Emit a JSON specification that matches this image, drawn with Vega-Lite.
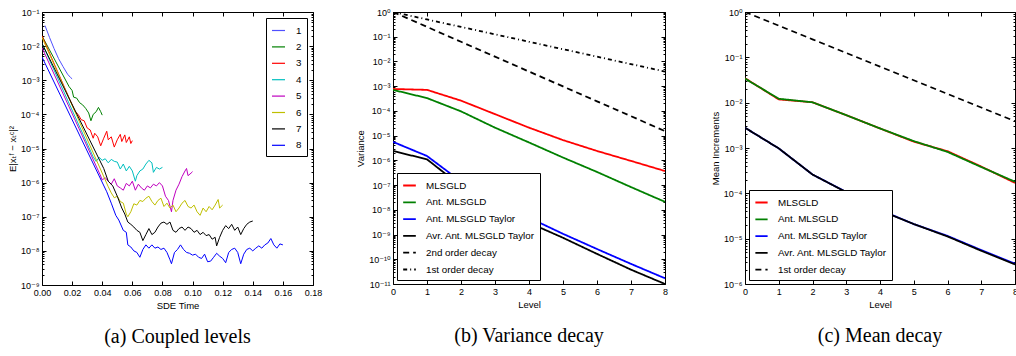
{
"$schema": "https://vega.github.io/schema/vega-lite/v6.json",
"background": "white",
"padding": {"left": 6, "top": 7, "right": 0, "bottom": 2},
"spacing": 80,
"bounds": "flush",
"resolve": {"scale": {"color": "independent", "strokeDash": "independent"}},
"config": {
 "view": {"stroke": "black", "strokeWidth": 1},
 "font": "Liberation Sans",
 "axis": {"domain": false, "grid": false, "tickColor": "black", "tickSize": -4, "labelPadding": 7, "labelFont": "Liberation Sans, DejaVu Sans", "labelFontSize": 9, "labelColor": "black", "titleFont": "Liberation Sans, DejaVu Sans", "titleFontSize": 9.5, "titleFontWeight": "normal", "titleColor": "black", "labelFlush": false, "labelOverlap": false, "titlePadding": 3},
 "legend": {"title": null, "strokeColor": "black", "fillColor": "white", "cornerRadius": 0, "symbolType": "stroke", "labelFont": "Liberation Sans", "labelFontSize": 9.8, "labelColor": "black"},
 "title": {"orient": "bottom", "font": "Liberation Serif", "fontSize": 20, "fontWeight": "normal", "color": "black", "frame": "group", "anchor": "middle", "offset": 17}
},
"datasets": {
 "a": [
  {"s":1,"t":0.002,"v":0.040},{"s":1,"t":0.005,"v":0.018},{"s":1,"t":0.008,"v":0.0085},{"s":1,"t":0.011,"v":0.0043},{"s":1,"t":0.014,"v":0.0025},{"s":1,"t":0.017,"v":0.0015},{"s":1,"t":0.019,"v":0.0012},{"s":1,"t":0.020,"v":0.0011},
  {"s":2,"t":0.0,"v":0.02},{"s":2,"t":0.018,"v":0.00065},{"s":2,"t":0.020,"v":0.0005},{"s":2,"t":0.021,"v":0.00032},{"s":2,"t":0.023,"v":0.0003},{"s":2,"t":0.025,"v":0.00022},{"s":2,"t":0.027,"v":0.00019},{"s":2,"t":0.029,"v":0.00015},{"s":2,"t":0.031,"v":0.00011},{"s":2,"t":0.0325,"v":0.000065},{"s":2,"t":0.034,"v":0.0001},{"s":2,"t":0.036,"v":0.00012},{"s":2,"t":0.0375,"v":0.00016},{"s":2,"t":0.039,"v":0.00012},{"s":2,"t":0.040,"v":0.000095},
  {"s":3,"t":0.0,"v":0.02},{"s":3,"t":0.022,"v":0.00012},{"s":3,"t":0.024,"v":0.0001},{"s":3,"t":0.026,"v":0.00007},{"s":3,"t":0.028,"v":0.000065},{"s":3,"t":0.030,"v":0.00004},{"s":3,"t":0.032,"v":0.000035},{"s":3,"t":0.034,"v":0.00002},{"s":3,"t":0.035,"v":0.000028},{"s":3,"t":0.037,"v":0.000022},{"s":3,"t":0.039,"v":0.000012},{"s":3,"t":0.041,"v":0.00002},{"s":3,"t":0.043,"v":0.000032},{"s":3,"t":0.044,"v":0.000018},{"s":3,"t":0.046,"v":0.000022},{"s":3,"t":0.048,"v":0.000011},{"s":3,"t":0.050,"v":0.000018},{"s":3,"t":0.052,"v":0.000026},{"s":3,"t":0.053,"v":0.000016},{"s":3,"t":0.055,"v":0.000025},{"s":3,"t":0.056,"v":0.000015},{"s":3,"t":0.058,"v":0.000022},{"s":3,"t":0.059,"v":0.000014},{"s":3,"t":0.060,"v":0.000017},
  {"s":4,"t":0.0,"v":0.012},{"s":4,"t":0.034,"v":0.0000057},{"s":4,"t":0.036,"v":0.0000042},{"s":4,"t":0.038,"v":0.0000055},{"s":4,"t":0.040,"v":0.0000045},{"s":4,"t":0.042,"v":0.000005},{"s":4,"t":0.044,"v":0.0000038},{"s":4,"t":0.046,"v":0.0000048},{"s":4,"t":0.048,"v":0.0000042},{"s":4,"t":0.050,"v":0.000004},{"s":4,"t":0.052,"v":0.0000025},{"s":4,"t":0.054,"v":0.0000035},{"s":4,"t":0.056,"v":0.0000022},{"s":4,"t":0.058,"v":0.000003},{"s":4,"t":0.060,"v":0.0000022},{"s":4,"t":0.062,"v":0.0000011},{"s":4,"t":0.063,"v":0.0000016},{"s":4,"t":0.065,"v":0.0000022},{"s":4,"t":0.067,"v":0.0000025},{"s":4,"t":0.069,"v":0.0000035},{"s":4,"t":0.071,"v":0.0000045},{"s":4,"t":0.073,"v":0.0000038},{"s":4,"t":0.074,"v":0.000002},{"s":4,"t":0.076,"v":0.0000028},{"s":4,"t":0.078,"v":0.0000025},{"s":4,"t":0.080,"v":0.0000028},
  {"s":5,"t":0.0,"v":0.009},{"s":5,"t":0.0386,"v":0.0000017},{"s":5,"t":0.040,"v":0.0000012},{"s":5,"t":0.042,"v":0.0000014},{"s":5,"t":0.044,"v":0.0000011},{"s":5,"t":0.046,"v":0.0000009},{"s":5,"t":0.048,"v":0.0000013},{"s":5,"t":0.050,"v":0.0000008},{"s":5,"t":0.052,"v":0.0000007},{"s":5,"t":0.054,"v":0.0000006},{"s":5,"t":0.056,"v":0.00000095},{"s":5,"t":0.058,"v":0.0000008},{"s":5,"t":0.060,"v":0.0000011},{"s":5,"t":0.062,"v":0.0000006},{"s":5,"t":0.064,"v":0.0000009},{"s":5,"t":0.066,"v":0.0000007},{"s":5,"t":0.068,"v":0.0000006},{"s":5,"t":0.070,"v":0.0000008},{"s":5,"t":0.072,"v":0.0000007},{"s":5,"t":0.074,"v":0.0000009},{"s":5,"t":0.076,"v":0.0000008},{"s":5,"t":0.078,"v":0.000001},{"s":5,"t":0.080,"v":0.0000008},{"s":5,"t":0.082,"v":0.0000004},{"s":5,"t":0.084,"v":0.0000003},{"s":5,"t":0.086,"v":0.00000014},{"s":5,"t":0.087,"v":0.0000003},{"s":5,"t":0.089,"v":0.0000006},{"s":5,"t":0.091,"v":0.0000009},{"s":5,"t":0.093,"v":0.0000015},{"s":5,"t":0.095,"v":0.0000022},{"s":5,"t":0.096,"v":0.0000026},{"s":5,"t":0.097,"v":0.0000016},{"s":5,"t":0.099,"v":0.0000019},{"s":5,"t":0.100,"v":0.0000021},
  {"s":6,"t":0.0,"v":0.018},{"s":6,"t":0.044,"v":0.00000076},{"s":6,"t":0.046,"v":0.0000005},{"s":6,"t":0.048,"v":0.00000036},{"s":6,"t":0.050,"v":0.0000004},{"s":6,"t":0.052,"v":0.00000028},{"s":6,"t":0.054,"v":0.00000025},{"s":6,"t":0.056,"v":0.00000012},{"s":6,"t":0.057,"v":0.0000001},{"s":6,"t":0.059,"v":0.00000014},{"s":6,"t":0.061,"v":0.00000024},{"s":6,"t":0.063,"v":0.00000022},{"s":6,"t":0.065,"v":0.0000003},{"s":6,"t":0.067,"v":0.00000028},{"s":6,"t":0.069,"v":0.00000035},{"s":6,"t":0.071,"v":0.0000004},{"s":6,"t":0.073,"v":0.00000028},{"s":6,"t":0.075,"v":0.00000022},{"s":6,"t":0.077,"v":0.0000003},{"s":6,"t":0.079,"v":0.00000035},{"s":6,"t":0.081,"v":0.0000002},{"s":6,"t":0.083,"v":0.00000025},{"s":6,"t":0.085,"v":0.00000018},{"s":6,"t":0.087,"v":0.00000022},{"s":6,"t":0.089,"v":0.00000014},{"s":6,"t":0.091,"v":0.00000018},{"s":6,"t":0.093,"v":0.00000025},{"s":6,"t":0.095,"v":0.0000003},{"s":6,"t":0.097,"v":0.0000002},{"s":6,"t":0.099,"v":0.00000018},{"s":6,"t":0.101,"v":0.00000022},{"s":6,"t":0.103,"v":0.00000014},{"s":6,"t":0.105,"v":0.00000011},{"s":6,"t":0.107,"v":0.00000018},{"s":6,"t":0.109,"v":0.00000014},{"s":6,"t":0.111,"v":0.0000002},{"s":6,"t":0.113,"v":0.00000016},{"s":6,"t":0.115,"v":0.00000022},{"s":6,"t":0.117,"v":0.00000032},{"s":6,"t":0.118,"v":0.00000018},{"s":6,"t":0.120,"v":0.00000022},
  {"s":7,"t":0.0,"v":0.012},{"s":7,"t":0.041,"v":0.0000026},{"s":7,"t":0.044,"v":0.0000011},{"s":7,"t":0.047,"v":0.0000008},{"s":7,"t":0.050,"v":0.0000004},{"s":7,"t":0.053,"v":0.00000018},{"s":7,"t":0.055,"v":0.00000012},{"s":7,"t":0.057,"v":0.00000007},{"s":7,"t":0.059,"v":0.00000006},{"s":7,"t":0.061,"v":0.00000005},{"s":7,"t":0.063,"v":0.00000004},{"s":7,"t":0.065,"v":0.000000035},{"s":7,"t":0.067,"v":0.00000002},{"s":7,"t":0.069,"v":0.00000003},{"s":7,"t":0.071,"v":0.000000045},{"s":7,"t":0.073,"v":0.00000003},{"s":7,"t":0.075,"v":0.000000035},{"s":7,"t":0.077,"v":0.00000005},{"s":7,"t":0.079,"v":0.000000065},{"s":7,"t":0.081,"v":0.00000007},{"s":7,"t":0.083,"v":0.00000006},{"s":7,"t":0.085,"v":0.00000007},{"s":7,"t":0.087,"v":0.00000004},{"s":7,"t":0.089,"v":0.000000035},{"s":7,"t":0.091,"v":0.000000045},{"s":7,"t":0.093,"v":0.00000005},{"s":7,"t":0.095,"v":0.00000004},{"s":7,"t":0.097,"v":0.00000005},{"s":7,"t":0.099,"v":0.000000045},{"s":7,"t":0.101,"v":0.000000035},{"s":7,"t":0.103,"v":0.00000004},{"s":7,"t":0.105,"v":0.00000003},{"s":7,"t":0.107,"v":0.000000035},{"s":7,"t":0.109,"v":0.000000028},{"s":7,"t":0.111,"v":0.00000003},{"s":7,"t":0.113,"v":0.000000022},{"s":7,"t":0.115,"v":0.000000025},{"s":7,"t":0.116,"v":0.000000014},{"s":7,"t":0.118,"v":0.000000025},{"s":7,"t":0.120,"v":0.00000004},{"s":7,"t":0.122,"v":0.000000055},{"s":7,"t":0.124,"v":0.000000045},{"s":7,"t":0.126,"v":0.00000006},{"s":7,"t":0.128,"v":0.00000004},{"s":7,"t":0.130,"v":0.00000005},{"s":7,"t":0.132,"v":0.00000003},{"s":7,"t":0.134,"v":0.000000045},{"s":7,"t":0.136,"v":0.00000006},{"s":7,"t":0.138,"v":0.00000007},{"s":7,"t":0.140,"v":0.000000075},
  {"s":8,"t":0.0,"v":0.0048},{"s":8,"t":0.043,"v":0.00000054},{"s":8,"t":0.046,"v":0.00000025},{"s":8,"t":0.049,"v":0.00000011},{"s":8,"t":0.051,"v":0.00000008},{"s":8,"t":0.054,"v":0.00000004},{"s":8,"t":0.056,"v":0.000000035},{"s":8,"t":0.057,"v":0.000000015},{"s":8,"t":0.059,"v":0.000000013},{"s":8,"t":0.061,"v":0.00000001},{"s":8,"t":0.063,"v":0.000000009},{"s":8,"t":0.065,"v":0.0000000065},{"s":8,"t":0.067,"v":0.000000011},{"s":8,"t":0.069,"v":0.000000015},{"s":8,"t":0.071,"v":0.000000012},{"s":8,"t":0.073,"v":0.000000015},{"s":8,"t":0.075,"v":0.000000012},{"s":8,"t":0.077,"v":0.000000013},{"s":8,"t":0.079,"v":0.000000011},{"s":8,"t":0.081,"v":0.000000012},{"s":8,"t":0.083,"v":0.000000009},{"s":8,"t":0.085,"v":0.0000000055},{"s":8,"t":0.086,"v":0.0000000042},{"s":8,"t":0.088,"v":0.000000009},{"s":8,"t":0.090,"v":0.000000011},{"s":8,"t":0.092,"v":0.000000015},{"s":8,"t":0.094,"v":0.000000011},{"s":8,"t":0.096,"v":0.000000009},{"s":8,"t":0.098,"v":0.0000000085},{"s":8,"t":0.100,"v":0.0000000075},{"s":8,"t":0.102,"v":0.000000008},{"s":8,"t":0.104,"v":0.0000000065},{"s":8,"t":0.106,"v":0.000000006},{"s":8,"t":0.108,"v":0.000000008},{"s":8,"t":0.110,"v":0.0000000048},{"s":8,"t":0.112,"v":0.000000005},{"s":8,"t":0.114,"v":0.0000000065},{"s":8,"t":0.116,"v":0.0000000085},{"s":8,"t":0.118,"v":0.000000007},{"s":8,"t":0.120,"v":0.000000006},{"s":8,"t":0.122,"v":0.0000000045},{"s":8,"t":0.124,"v":0.000000009},{"s":8,"t":0.126,"v":0.000000011},{"s":8,"t":0.128,"v":0.000000012},{"s":8,"t":0.130,"v":0.000000009},{"s":8,"t":0.132,"v":0.0000000042},{"s":8,"t":0.134,"v":0.000000008},{"s":8,"t":0.136,"v":0.000000011},{"s":8,"t":0.138,"v":0.000000012},{"s":8,"t":0.140,"v":0.00000001},{"s":8,"t":0.142,"v":0.000000012},{"s":8,"t":0.144,"v":0.000000014},{"s":8,"t":0.146,"v":0.000000012},{"s":8,"t":0.148,"v":0.000000015},{"s":8,"t":0.150,"v":0.000000017},{"s":8,"t":0.152,"v":0.000000023},{"s":8,"t":0.154,"v":0.000000015},{"s":8,"t":0.156,"v":0.000000012},{"s":8,"t":0.158,"v":0.000000016},{"s":8,"t":0.160,"v":0.000000015}
 ],
 "b": [
  {"s":"MLSGLD","l":0,"v":7.7e-4},{"s":"MLSGLD","l":1,"v":7.1e-4},{"s":"MLSGLD","l":2,"v":2.6e-4},{"s":"MLSGLD","l":3,"v":7.4e-5},{"s":"MLSGLD","l":4,"v":2.1e-5},{"s":"MLSGLD","l":5,"v":6.6e-6},{"s":"MLSGLD","l":6,"v":2.4e-6},{"s":"MLSGLD","l":7,"v":9.5e-7},{"s":"MLSGLD","l":8,"v":3.7e-7},
  {"s":"Ant. MLSGLD","l":0,"v":7.1e-4},{"s":"Ant. MLSGLD","l":1,"v":3.3e-4},{"s":"Ant. MLSGLD","l":2,"v":9.6e-5},{"s":"Ant. MLSGLD","l":3,"v":2.1e-5},{"s":"Ant. MLSGLD","l":4,"v":5.3e-6},{"s":"Ant. MLSGLD","l":5,"v":1.3e-6},{"s":"Ant. MLSGLD","l":6,"v":3.4e-7},{"s":"Ant. MLSGLD","l":7,"v":8.3e-8},{"s":"Ant. MLSGLD","l":8,"v":2.1e-8},
  {"s":"Ant. MLSGLD Taylor","l":0,"v":5.6e-6},{"s":"Ant. MLSGLD Taylor","l":1,"v":1.5e-6},{"s":"Ant. MLSGLD Taylor","l":2,"v":1.4e-7},{"s":"Ant. MLSGLD Taylor","l":3,"v":2.2e-8},{"s":"Ant. MLSGLD Taylor","l":4,"v":4.8e-9},{"s":"Ant. MLSGLD Taylor","l":5,"v":1.07e-9},{"s":"Ant. MLSGLD Taylor","l":6,"v":2.6e-10},{"s":"Ant. MLSGLD Taylor","l":7,"v":6.5e-11},{"s":"Ant. MLSGLD Taylor","l":8,"v":1.7e-11},
  {"s":"Avr. Ant. MLSGLD Taylor","l":0,"v":2.4e-6},{"s":"Avr. Ant. MLSGLD Taylor","l":1,"v":1.1e-6},{"s":"Avr. Ant. MLSGLD Taylor","l":2,"v":9.2e-8},{"s":"Avr. Ant. MLSGLD Taylor","l":3,"v":1.6e-8},{"s":"Avr. Ant. MLSGLD Taylor","l":4,"v":3.0e-9},{"s":"Avr. Ant. MLSGLD Taylor","l":5,"v":7.4e-10},{"s":"Avr. Ant. MLSGLD Taylor","l":6,"v":1.65e-10},{"s":"Avr. Ant. MLSGLD Taylor","l":7,"v":3.8e-11},{"s":"Avr. Ant. MLSGLD Taylor","l":8,"v":1.0e-11},
  {"s":"2nd order decay","l":0,"v":1},{"s":"2nd order decay","l":1,"v":0.25},{"s":"2nd order decay","l":2,"v":0.0625},{"s":"2nd order decay","l":3,"v":0.015625},{"s":"2nd order decay","l":4,"v":0.00390625},{"s":"2nd order decay","l":5,"v":0.0009765625},{"s":"2nd order decay","l":6,"v":0.000244140625},{"s":"2nd order decay","l":7,"v":0.00006103515625},{"s":"2nd order decay","l":8,"v":0.0000152587890625},
  {"s":"1st order decay","l":0,"v":1},{"s":"1st order decay","l":1,"v":0.5},{"s":"1st order decay","l":2,"v":0.25},{"s":"1st order decay","l":3,"v":0.125},{"s":"1st order decay","l":4,"v":0.0625},{"s":"1st order decay","l":5,"v":0.03125},{"s":"1st order decay","l":6,"v":0.015625},{"s":"1st order decay","l":7,"v":0.0078125},{"s":"1st order decay","l":8,"v":0.00390625}
 ],
 "c": [
  {"s":"MLSGLD","l":0,"v":0.0346},{"s":"MLSGLD","l":1,"v":0.0118},{"s":"MLSGLD","l":2,"v":0.0102},{"s":"MLSGLD","l":3,"v":0.0053},{"s":"MLSGLD","l":4,"v":0.0027},{"s":"MLSGLD","l":5,"v":0.00138},{"s":"MLSGLD","l":6,"v":0.00085},{"s":"MLSGLD","l":7,"v":0.00039},{"s":"MLSGLD","l":8,"v":0.00017},
  {"s":"Ant. MLSGLD","l":0,"v":0.0340},{"s":"Ant. MLSGLD","l":1,"v":0.0122},{"s":"Ant. MLSGLD","l":2,"v":0.0102},{"s":"Ant. MLSGLD","l":3,"v":0.0053},{"s":"Ant. MLSGLD","l":4,"v":0.0027},{"s":"Ant. MLSGLD","l":5,"v":0.00142},{"s":"Ant. MLSGLD","l":6,"v":0.00082},{"s":"Ant. MLSGLD","l":7,"v":0.00038},{"s":"Ant. MLSGLD","l":8,"v":0.00018},
  {"s":"Ant. MLSGLD Taylor","l":0,"v":0.0028},{"s":"Ant. MLSGLD Taylor","l":1,"v":0.00098},{"s":"Ant. MLSGLD Taylor","l":2,"v":0.00026},{"s":"Ant. MLSGLD Taylor","l":3,"v":0.000107},{"s":"Ant. MLSGLD Taylor","l":4,"v":0.000043},{"s":"Ant. MLSGLD Taylor","l":5,"v":0.000021},{"s":"Ant. MLSGLD Taylor","l":6,"v":0.0000115},{"s":"Ant. MLSGLD Taylor","l":7,"v":0.0000056},{"s":"Ant. MLSGLD Taylor","l":8,"v":0.0000028},
  {"s":"Avr. Ant. MLSGLD Taylor","l":0,"v":0.0028},{"s":"Avr. Ant. MLSGLD Taylor","l":1,"v":0.00098},{"s":"Avr. Ant. MLSGLD Taylor","l":2,"v":0.00026},{"s":"Avr. Ant. MLSGLD Taylor","l":3,"v":0.000106},{"s":"Avr. Ant. MLSGLD Taylor","l":4,"v":0.000042},{"s":"Avr. Ant. MLSGLD Taylor","l":5,"v":0.000021},{"s":"Avr. Ant. MLSGLD Taylor","l":6,"v":0.0000112},{"s":"Avr. Ant. MLSGLD Taylor","l":7,"v":0.0000054},{"s":"Avr. Ant. MLSGLD Taylor","l":8,"v":0.0000027},
  {"s":"1st order decay","l":0,"v":1},{"s":"1st order decay","l":1,"v":0.5},{"s":"1st order decay","l":2,"v":0.25},{"s":"1st order decay","l":3,"v":0.125},{"s":"1st order decay","l":4,"v":0.0625},{"s":"1st order decay","l":5,"v":0.03125},{"s":"1st order decay","l":6,"v":0.015625},{"s":"1st order decay","l":7,"v":0.0078125},{"s":"1st order decay","l":8,"v":0.00390625}
 ]
},
"hconcat": [
 {
  "width": 271, "height": 273,
  "title": {"text": "(a) Coupled levels"},
  "data": {"name": "a"},
  "layer": [
   {
    "mark": {"type": "line", "strokeWidth": 1, "clip": true},
    "encoding": {
     "x": {"field": "t", "type": "quantitative", "scale": {"domain": [0, 0.18], "nice": false, "zero": false},
       "axis": {"title": "SDE Time", "values": [0,0.02,0.04,0.06,0.08,0.1,0.12,0.14,0.16,0.18], "format": ".2f"}},
     "y": {"field": "v", "type": "quantitative", "scale": {"type": "log", "domain": [1e-9, 0.1], "nice": false},
       "axis": {"title": "E|xₜᶠ − xₜᶜ|²",
         "values": [1e-9,2e-9,3e-9,4e-9,5e-9,6e-9,7e-9,8e-9,9e-9,1e-8,2e-8,3e-8,4e-8,5e-8,6e-8,7e-8,8e-8,9e-8,1e-7,2e-7,3e-7,4e-7,5e-7,6e-7,7e-7,8e-7,9e-7,1e-6,2e-6,3e-6,4e-6,5e-6,6e-6,7e-6,8e-6,9e-6,1e-5,2e-5,3e-5,4e-5,5e-5,6e-5,7e-5,8e-5,9e-5,1e-4,2e-4,3e-4,4e-4,5e-4,6e-4,7e-4,8e-4,9e-4,1e-3,2e-3,3e-3,4e-3,5e-3,6e-3,7e-3,8e-3,9e-3,1e-2,2e-2,3e-2,4e-2,5e-2,6e-2,7e-2,8e-2,9e-2,1e-1],
         "tickSize": {"condition": {"test": "abs(log(datum.value)/LN10 - round(log(datum.value)/LN10)) > 0.001", "value": -2}, "value": -4},
         "labelExpr": "abs(log(datum.value)/LN10 - round(log(datum.value)/LN10)) > 0.001 ? '' : '10' + replace(replace(replace(replace(replace(replace(replace(replace(replace(replace(replace(toString(round(log(datum.value)/LN10)), '-', '⁻'), regexp('1','g'), '¹'), regexp('0','g'), '⁰'), '2', '²'), '3', '³'), '4', '⁴'), '5', '⁵'), '6', '⁶'), '7', '⁷'), '8', '⁸'), '9', '⁹')"}},
     "color": {"field": "s", "type": "nominal",
       "scale": {"domain": [1,2,3,4,5,6,7,8], "range": ["#5050ff","#008000","#ff0000","#00bfbf","#bf00bf","#bfbf00","#000000","#0000ff"]},
       "legend": {"orient": "top-right", "offset": 6, "padding": 5, "symbolSize": 169, "symbolStrokeWidth": 1.2, "rowPadding": 3.4, "labelOffset": 10}}
    }
   },
   {
    "mark": {"type": "point", "opacity": 0},
    "encoding": {
     "x": {"field": "t", "type": "quantitative", "scale": {"domain": [0, 0.18], "nice": false, "zero": false},
       "axis": {"orient": "top", "title": null, "labels": false, "values": [0,0.02,0.04,0.06,0.08,0.1,0.12,0.14,0.16,0.18]}},
     "y": {"field": "v", "type": "quantitative", "scale": {"type": "log", "domain": [1e-9, 0.1], "nice": false},
       "axis": {"orient": "right", "title": null, "labels": false,
         "values": [1e-9,2e-9,3e-9,4e-9,5e-9,6e-9,7e-9,8e-9,9e-9,1e-8,2e-8,3e-8,4e-8,5e-8,6e-8,7e-8,8e-8,9e-8,1e-7,2e-7,3e-7,4e-7,5e-7,6e-7,7e-7,8e-7,9e-7,1e-6,2e-6,3e-6,4e-6,5e-6,6e-6,7e-6,8e-6,9e-6,1e-5,2e-5,3e-5,4e-5,5e-5,6e-5,7e-5,8e-5,9e-5,1e-4,2e-4,3e-4,4e-4,5e-4,6e-4,7e-4,8e-4,9e-4,1e-3,2e-3,3e-3,4e-3,5e-3,6e-3,7e-3,8e-3,9e-3,1e-2,2e-2,3e-2,4e-2,5e-2,6e-2,7e-2,8e-2,9e-2,1e-1],
         "tickSize": {"condition": {"test": "abs(log(datum.value)/LN10 - round(log(datum.value)/LN10)) > 0.001", "value": -2}, "value": -4}}}
    }
   }
  ],
  "resolve": {"axis": {"x": "independent", "y": "independent"}}
 },
 {
  "width": 272, "height": 272,
  "title": {"text": "(b) Variance decay"},
  "data": {"name": "b"},
  "layer": [
   {
    "mark": {"type": "line", "strokeWidth": 1.8, "clip": true},
    "encoding": {
     "x": {"field": "l", "type": "quantitative", "scale": {"domain": [0, 8], "nice": false},
       "axis": {"title": "Level", "values": [0,1,2,3,4,5,6,7,8], "format": "d"}},
     "y": {"field": "v", "type": "quantitative", "scale": {"type": "log", "domain": [1e-11, 1], "nice": false},
       "axis": {"title": "Variance",
         "values": [1e-11,2e-11,3e-11,4e-11,5e-11,6e-11,7e-11,8e-11,9e-11,1e-10,2e-10,3e-10,4e-10,5e-10,6e-10,7e-10,8e-10,9e-10,1e-9,2e-9,3e-9,4e-9,5e-9,6e-9,7e-9,8e-9,9e-9,1e-8,2e-8,3e-8,4e-8,5e-8,6e-8,7e-8,8e-8,9e-8,1e-7,2e-7,3e-7,4e-7,5e-7,6e-7,7e-7,8e-7,9e-7,1e-6,2e-6,3e-6,4e-6,5e-6,6e-6,7e-6,8e-6,9e-6,1e-5,2e-5,3e-5,4e-5,5e-5,6e-5,7e-5,8e-5,9e-5,1e-4,2e-4,3e-4,4e-4,5e-4,6e-4,7e-4,8e-4,9e-4,1e-3,2e-3,3e-3,4e-3,5e-3,6e-3,7e-3,8e-3,9e-3,1e-2,2e-2,3e-2,4e-2,5e-2,6e-2,7e-2,8e-2,9e-2,1e-1,2e-1,3e-1,4e-1,5e-1,6e-1,7e-1,8e-1,9e-1,1],
         "tickSize": {"condition": {"test": "abs(log(datum.value)/LN10 - round(log(datum.value)/LN10)) > 0.001", "value": -2}, "value": -4},
         "labelExpr": "abs(log(datum.value)/LN10 - round(log(datum.value)/LN10)) > 0.001 ? '' : '10' + replace(replace(replace(replace(replace(replace(replace(replace(replace(replace(replace(toString(round(log(datum.value)/LN10)), '-', '⁻'), regexp('1','g'), '¹'), regexp('0','g'), '⁰'), '2', '²'), '3', '³'), '4', '⁴'), '5', '⁵'), '6', '⁶'), '7', '⁷'), '8', '⁸'), '9', '⁹')"}},
     "color": {"field": "s", "type": "nominal",
       "scale": {"domain": ["MLSGLD","Ant. MLSGLD","Ant. MLSGLD Taylor","Avr. Ant. MLSGLD Taylor","2nd order decay","1st order decay"], "range": ["#ff0000","#008000","#0000ff","#000000","#000000","#000000"]},
       "legend": {"orient": "bottom-left", "offset": 4, "padding": 5, "symbolSize": 160, "symbolStrokeWidth": 1.8, "rowPadding": 3.8, "labelOffset": 9}},
     "strokeDash": {"field": "s", "type": "nominal",
       "scale": {"domain": ["MLSGLD","Ant. MLSGLD","Ant. MLSGLD Taylor","Avr. Ant. MLSGLD Taylor","2nd order decay","1st order decay"], "range": [[1,0],[1,0],[1,0],[1,0],[6,4],[4,3,1,3]]}}
    }
   },
   {
    "mark": {"type": "point", "opacity": 0},
    "encoding": {
     "x": {"field": "l", "type": "quantitative", "scale": {"domain": [0, 8], "nice": false},
       "axis": {"orient": "top", "title": null, "labels": false, "values": [0,1,2,3,4,5,6,7,8]}},
     "y": {"field": "v", "type": "quantitative", "scale": {"type": "log", "domain": [1e-11, 1], "nice": false},
       "axis": {"orient": "right", "title": null, "labels": false,
         "values": [1e-11,2e-11,3e-11,4e-11,5e-11,6e-11,7e-11,8e-11,9e-11,1e-10,2e-10,3e-10,4e-10,5e-10,6e-10,7e-10,8e-10,9e-10,1e-9,2e-9,3e-9,4e-9,5e-9,6e-9,7e-9,8e-9,9e-9,1e-8,2e-8,3e-8,4e-8,5e-8,6e-8,7e-8,8e-8,9e-8,1e-7,2e-7,3e-7,4e-7,5e-7,6e-7,7e-7,8e-7,9e-7,1e-6,2e-6,3e-6,4e-6,5e-6,6e-6,7e-6,8e-6,9e-6,1e-5,2e-5,3e-5,4e-5,5e-5,6e-5,7e-5,8e-5,9e-5,1e-4,2e-4,3e-4,4e-4,5e-4,6e-4,7e-4,8e-4,9e-4,1e-3,2e-3,3e-3,4e-3,5e-3,6e-3,7e-3,8e-3,9e-3,1e-2,2e-2,3e-2,4e-2,5e-2,6e-2,7e-2,8e-2,9e-2,1e-1,2e-1,3e-1,4e-1,5e-1,6e-1,7e-1,8e-1,9e-1,1],
         "tickSize": {"condition": {"test": "abs(log(datum.value)/LN10 - round(log(datum.value)/LN10)) > 0.001", "value": -2}, "value": -4}}}
    }
   }
  ],
  "resolve": {"axis": {"x": "independent", "y": "independent"}}
 },
 {
  "width": 270, "height": 272,
  "title": {"text": "(c) Mean decay"},
  "data": {"name": "c"},
  "layer": [
   {
    "mark": {"type": "line", "strokeWidth": 1.8, "clip": true},
    "encoding": {
     "x": {"field": "l", "type": "quantitative", "scale": {"domain": [0, 8], "nice": false},
       "axis": {"title": "Level", "values": [0,1,2,3,4,5,6,7,8], "format": "d"}},
     "y": {"field": "v", "type": "quantitative", "scale": {"type": "log", "domain": [1e-6, 1], "nice": false},
       "axis": {"title": "Mean Increments",
         "values": [1e-6,2e-6,3e-6,4e-6,5e-6,6e-6,7e-6,8e-6,9e-6,1e-5,2e-5,3e-5,4e-5,5e-5,6e-5,7e-5,8e-5,9e-5,1e-4,2e-4,3e-4,4e-4,5e-4,6e-4,7e-4,8e-4,9e-4,1e-3,2e-3,3e-3,4e-3,5e-3,6e-3,7e-3,8e-3,9e-3,1e-2,2e-2,3e-2,4e-2,5e-2,6e-2,7e-2,8e-2,9e-2,1e-1,2e-1,3e-1,4e-1,5e-1,6e-1,7e-1,8e-1,9e-1,1],
         "tickSize": {"condition": {"test": "abs(log(datum.value)/LN10 - round(log(datum.value)/LN10)) > 0.001", "value": -2}, "value": -4},
         "labelExpr": "abs(log(datum.value)/LN10 - round(log(datum.value)/LN10)) > 0.001 ? '' : '10' + replace(replace(replace(replace(replace(replace(replace(replace(replace(replace(replace(toString(round(log(datum.value)/LN10)), '-', '⁻'), regexp('1','g'), '¹'), regexp('0','g'), '⁰'), '2', '²'), '3', '³'), '4', '⁴'), '5', '⁵'), '6', '⁶'), '7', '⁷'), '8', '⁸'), '9', '⁹')"}},
     "color": {"field": "s", "type": "nominal",
       "scale": {"domain": ["MLSGLD","Ant. MLSGLD","Ant. MLSGLD Taylor","Avr. Ant. MLSGLD Taylor","1st order decay"], "range": ["#ff0000","#008000","#0000ff","#000000","#000000"]},
       "legend": {"orient": "bottom-left", "offset": 4, "padding": 5, "symbolSize": 150, "symbolStrokeWidth": 1.8, "rowPadding": 3.8, "labelOffset": 9}},
     "strokeDash": {"field": "s", "type": "nominal",
       "scale": {"domain": ["MLSGLD","Ant. MLSGLD","Ant. MLSGLD Taylor","Avr. Ant. MLSGLD Taylor","1st order decay"], "range": [[1,0],[1,0],[1,0],[1,0],[6,4]]}}
    }
   },
   {
    "mark": {"type": "point", "opacity": 0},
    "encoding": {
     "x": {"field": "l", "type": "quantitative", "scale": {"domain": [0, 8], "nice": false},
       "axis": {"orient": "top", "title": null, "labels": false, "values": [0,1,2,3,4,5,6,7,8]}},
     "y": {"field": "v", "type": "quantitative", "scale": {"type": "log", "domain": [1e-6, 1], "nice": false},
       "axis": {"orient": "right", "title": null, "labels": false,
         "values": [1e-6,2e-6,3e-6,4e-6,5e-6,6e-6,7e-6,8e-6,9e-6,1e-5,2e-5,3e-5,4e-5,5e-5,6e-5,7e-5,8e-5,9e-5,1e-4,2e-4,3e-4,4e-4,5e-4,6e-4,7e-4,8e-4,9e-4,1e-3,2e-3,3e-3,4e-3,5e-3,6e-3,7e-3,8e-3,9e-3,1e-2,2e-2,3e-2,4e-2,5e-2,6e-2,7e-2,8e-2,9e-2,1e-1,2e-1,3e-1,4e-1,5e-1,6e-1,7e-1,8e-1,9e-1,1],
         "tickSize": {"condition": {"test": "abs(log(datum.value)/LN10 - round(log(datum.value)/LN10)) > 0.001", "value": -2}, "value": -4}}}
    }
   }
  ],
  "resolve": {"axis": {"x": "independent", "y": "independent"}}
 }
]
}
